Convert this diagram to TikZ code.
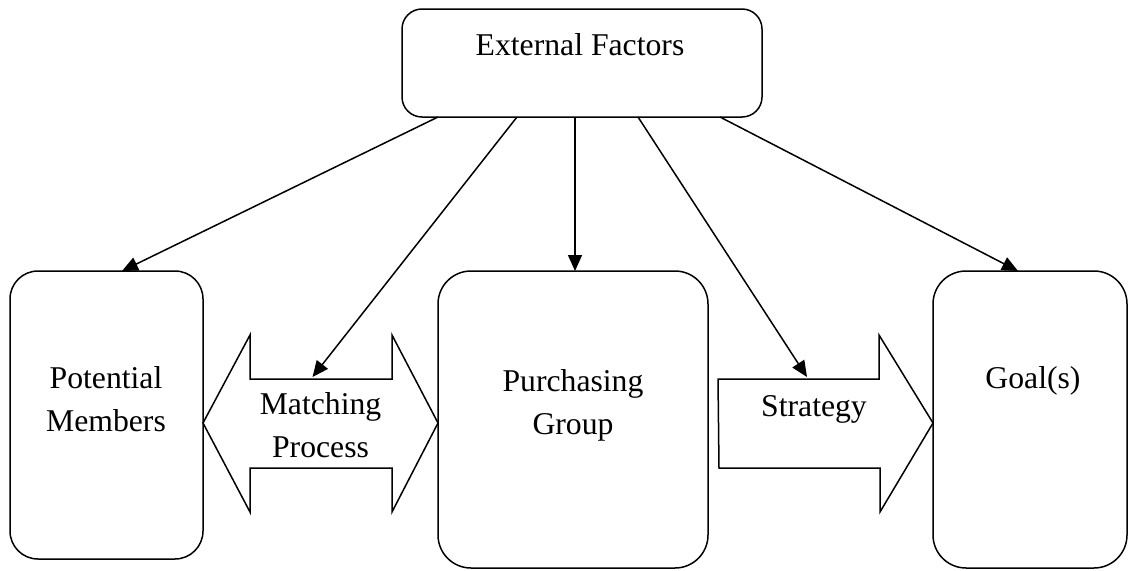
\documentclass[tikz,border=0pt]{standalone}
\usepackage{fontspec}
\setmainfont{Liberation Serif}
\usetikzlibrary{arrows.meta,calc}
\tikzset{
  box/.style={draw=black, line width=1.5pt, inner sep=0pt, outer sep=0pt},
  lbl/.style={inner sep=0pt, outer sep=0pt, align=center, anchor=base, font=\fontsize{31.7}{43}\selectfont},
  conn/.style={line width=1.5pt, -{Triangle[length=16pt,width=14pt]}},
  bigarrow/.style={draw=black, line width=1.5pt, line join=miter, fill=white}
}
\begin{document}
\begin{tikzpicture}[x=1pt,y=-1pt]
\useasboundingbox (0,0) rectangle (1129,570);
% boxes
\node[box, rounded corners=20pt, minimum width=360pt, minimum height=108pt] (ext) at (582,63) {};
\node[box, rounded corners=28pt, minimum width=193pt, minimum height=288pt] (pm) at (106.5,415) {};
\node[box, rounded corners=33pt, minimum width=270pt, minimum height=297pt] (pg) at (573,419.5) {};
\node[box, rounded corners=33pt, minimum width=194pt, minimum height=297pt] (goal) at (1030,419.5) {};
\coordinate (midline) at (0,423);
\coordinate (tipL) at (pm.east |- midline);
\coordinate (tipR) at (pg.west |- midline);
\coordinate (tipG) at (goal.west |- midline);
\coordinate (stBase) at ($(pg.east |- midline)+(10,0)$);
% texts
\node[lbl] (extT) at (580,55) {External Factors};
\node[lbl] (pmT) at (106,431) {Potential\\Members};
\node[lbl] (pgT) at (573,434) {Purchasing\\Group};
\node[lbl] (goalT) at (1033,388) {Goal(s)};
% big arrows
\draw[bigarrow] (tipL) -- ++(47,-88) -- ++(0,44) -- ++(142,0) -- ++(0,-44) -- (tipR)
  -- ++(-46,89) -- ++(0,-44) -- ++(-142,0) -- ++(0,44) -- cycle;
\draw[bigarrow] ($(stBase)+(0,-44)$) -- ++(161,0) -- ++(0,-44) -- (tipG)
  -- ++(-53,89) -- ++(0,-44) -- ++(-161,0) -- cycle;
\coordinate (matchTop) at ($(tipL)!0.5!(tipR)+(-8,-46)$);
\coordinate (stratTop) at ($(stBase)+(89,-46)$);
\node[lbl] (mpT) at ($(tipL)!0.5!(tipR)+(0,34)$) {Matching\\Process};
\node[lbl] (stT) at ($(stBase)+(96,-7)$) {Strategy};
% connectors
\draw[conn] ($(ext.south west)+(36,0)$) -- ($(pm.north west)+(112,0)$);
\draw[conn] ($(ext.south west)+(115,0)$) -- (matchTop);
\draw[conn] ($(ext.south west)+(173,0)$) -- (pg.north -| {$(ext.south west)+(173,0)$});
\draw[conn] ($(ext.south west)+(236,0)$) -- (stratTop);
\draw[conn] ($(ext.south west)+(318,0)$) -- ($(goal.north west)+(85,0)$);
\end{tikzpicture}
\end{document}
